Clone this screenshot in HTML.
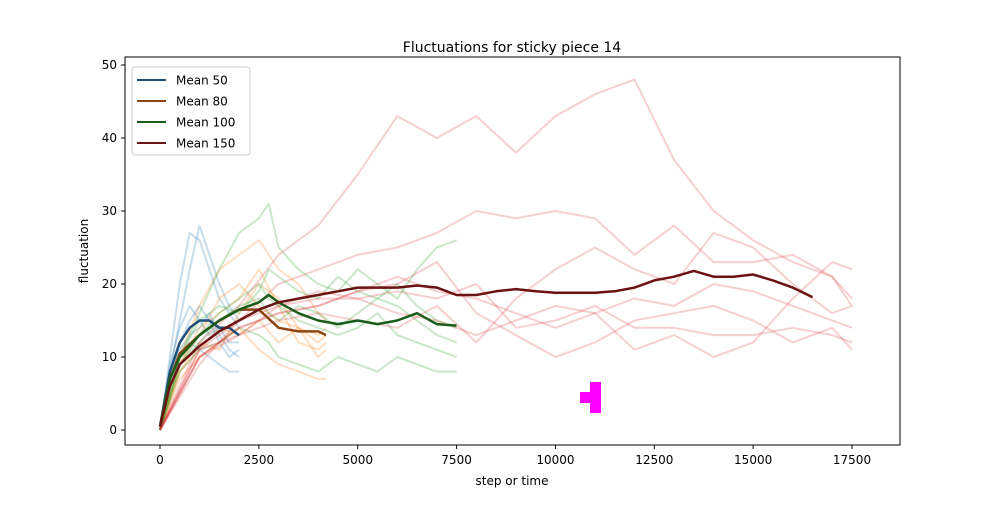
<!DOCTYPE html>
<html><head><meta charset="utf-8"><style>
body{margin:0;background:#fff;font-family:"Liberation Sans","DejaVu Sans",sans-serif;}
svg text{font-family:"DejaVu Sans","Liberation Sans",sans-serif;}
</style></head><body>
<svg id="c" width="1000" height="500" xmlns="http://www.w3.org/2000/svg">
<rect width="1000" height="500" fill="#fff"/>
<g id="lines"></g>
<g fill="#ff00ff">
<rect x="590" y="382" width="11" height="31"/><rect x="580" y="392" width="11" height="11"/>
</g>
<rect x="125" y="57" width="775" height="388" fill="none" stroke="#000" stroke-width="1"/>
<g id="axes"></g>
<text x="512" y="52" text-anchor="middle" font-size="14">Fluctuations for sticky piece 14</text>
<text x="512" y="485" text-anchor="middle" font-size="12">step or time</text>
<text x="88" y="251" text-anchor="middle" font-size="12" transform="rotate(-90 88 251)">fluctuation</text>
<g>
<rect x="132" y="67" width="118" height="88" rx="3" fill="#fff" fill-opacity="0.8" stroke="#ccc"/>
<g id="leg"></g>
</g>
</svg>
<script>
const xTicks=[0,2500,5000,7500,10000,12500,15000,17500];
const yTicks=[0,10,20,30,40,50];
const meanNames=["Mean 50","Mean 80","Mean 100","Mean 150"];
const meanColors=["#1f4e79","#8b4513","#1a5c1a","#6b1212"];
const mean50X=[0,250,500,750,1000,1250,1500,1750,2000];
const mean50Y=[0.5,8,12,14,15,15,14,14,13];
const mean80X=[0,250,500,1000,1500,2000,2500,3000,3500,4000,4200];
const mean80Y=[0.5,7,10.5,13,15,16.5,16.5,14,13.5,13.5,13];
const mean100X=[0,250,500,1000,1500,2000,2500,2750,3000,3500,4000,4500,5000,5500,6000,6500,7000,7500];
const mean100Y=[0.5,7,10,13,15,16.5,17.5,18.5,17.5,16,15,14.5,15,14.5,15,16,14.5,14.3];
const mean150X=[0,250,500,1000,1500,2000,2500,3000,3500,4000,4500,5000,5500,6000,6500,7000,7500,8000,8500,9000,9500,10000,10500,11000,11500,12000,12500,13000,13500,14000,14500,15000,15500,16000,16500];
const mean150Y=[0.5,6,9,11.5,13.5,15,16.5,17.5,18,18.5,19,19.5,19.5,19.5,19.8,19.5,18.5,18.5,19,19.3,19,18.8,18.8,18.8,19,19.5,20.5,21,21.8,21,21,21.3,20.5,19.5,18.2];
const blueX=[0,250,500,750,1000,1250,1500,1750,2000];
const blue1=[0,10,20,27,26,22,18,16,14];
const blue2=[0,8,15,22,28,24,20,17,15];
const blue3=[0,6,10,12,11,10,9,8,8];
const blue4=[0,7,12,15,17,15,12,10,11];
const blue5=[0,9,14,17,15,13,14,12,12];
const blue6=[0,8,11,13,14,16,13,11,10];
const orangeX=[0,500,1000,1500,2000,2500,3000,3500,4000,4200];
const orange1=[0,10,17,22,24,26,22,20,16,15];
const orange2=[0,7,10,12,14,11,9,8,7,7];
const orange3=[0,9,13,18,20,17,15,14,12,13];
const orange4=[0,8,12,11,16,20,18,14,10,11];
const orange5=[0,9,14,16,18,22,17,12,11,12];
const orange6=[0,8,11,14,13,15,12,14,13,14];
const greenX=[0,500,1000,1500,2000,2500,2750,3000,3500,4000,4500,5000,5500,6000,6500,7000,7500];
const green1=[0,10,16,22,27,29,31,25,22,20,19,22,20,18,22,25,26];
const green2=[0,8,11,12,14,13,12,10,9,8,10,9,8,10,9,8,8];
const green3=[0,9,13,16,18,20,18,17,15,14,13,14,16,13,12,11,10];
const green4=[0,10,15,17,16,19,22,21,19,18,21,19,18,17,15,13,12];
const green5=[0,9,12,15,17,18,16,15,17,16,14,16,18,20,17,15,14];
const redX=[0,1000,2000,3000,4000,5000,6000,7000,8000,9000,10000,11000,12000,13000,14000,15000,16000,17000,17500];
const red1=[0,12,17,24,28,35,43,40,43,38,43,46,48,37,30,26,23,21,17];
const red2=[0,11,15,20,22,24,25,27,30,29,30,29,24,28,23,23,24,21,18];
const red3=[0,10,14,16,17,19,20,23,16,13,10,12,15,16,17,15,12,14,11];
const red4=[0,11,13,15,16,15,14,17,12,18,22,25,22,20,27,25,20,16,17];
const red5=[0,9,15,17,18,18,19,18,20,14,15,17,14,14,13,13,14,13,12];
const red6=[0,10,14,16,17,19,21,19,18,16,14,16,11,13,10,12,18,23,22];
const red7=[0,10,13,17,19,18,16,15,13,15,17,16,18,17,20,19,17,15,14];
const faint=[
 ["rgba(31,119,180,0.25)",blueX,[blue1,blue2,blue3,blue4,blue5,blue6]],
 ["rgba(255,127,14,0.25)",orangeX,[orange1,orange2,orange3,orange4,orange5,orange6]],
 ["rgba(44,160,44,0.25)",greenX,[green1,green2,green3,green4,green5]],
 ["rgba(214,39,40,0.22)",redX,[red1,red2,red3,red4,red5,red6,red7]]
];
const means=[[mean50X,mean50Y],[mean80X,mean80Y],[mean100X,mean100Y],[mean150X,mean150Y]];
const NS="http://www.w3.org/2000/svg";
const sx=v=>160+v*(852-160)/17500;
const sy=v=>430-v*7.3;
const lines=document.getElementById('lines');
function path(xs,ys,col,w,name){
 const p=document.createElementNS(NS,'path');
 p.setAttribute('d',xs.map((x,i)=>(i?'L':'M')+sx(x).toFixed(1)+','+sy(ys[i]).toFixed(1)).join(''));
 p.setAttribute('fill','none');p.setAttribute('stroke',col);p.setAttribute('stroke-width',w);
 p.setAttribute('stroke-linejoin','round');
 
 
 lines.appendChild(p);
}
faint.forEach(([c,xs,arr],k)=>arr.forEach((ys,j)=>path(xs,ys,c,2,'run-line')));
means.forEach(([xs,ys],i)=>path(xs,ys,meanColors[i],2.5,'mean-line'));
const axes=document.getElementById('axes');
xTicks.forEach(t=>{
 const x=sx(t);
 const l=document.createElementNS(NS,'line');
 l.setAttribute('x1',x);l.setAttribute('x2',x);l.setAttribute('y1',445);l.setAttribute('y2',449);l.setAttribute('stroke','#000');
 
 
 axes.appendChild(l);
 const tx=document.createElementNS(NS,'text');
 tx.setAttribute('x',x);tx.setAttribute('y',464);tx.setAttribute('text-anchor','middle');tx.setAttribute('font-size','12');
 tx.textContent=t;
 
 
 axes.appendChild(tx);
});
yTicks.forEach(t=>{
 const y=sy(t);
 const l=document.createElementNS(NS,'line');
 l.setAttribute('x1',121);l.setAttribute('x2',125);l.setAttribute('y1',y);l.setAttribute('y2',y);l.setAttribute('stroke','#000');
 
 
 axes.appendChild(l);
 const tx=document.createElementNS(NS,'text');
 tx.setAttribute('x',117);tx.setAttribute('y',y+4);tx.setAttribute('text-anchor','end');tx.setAttribute('font-size','12');
 tx.textContent=t;
 
 
 axes.appendChild(tx);
});
const leg=document.getElementById('leg');
meanNames.forEach((n,i)=>{
 const y=80+i*21;
 const l=document.createElementNS(NS,'line');
 l.setAttribute('x1',137);l.setAttribute('x2',166);l.setAttribute('y1',y);l.setAttribute('y2',y);
 l.setAttribute('stroke',meanColors[i]);l.setAttribute('stroke-width',2);
 
 
 leg.appendChild(l);
 const t=document.createElementNS(NS,'text');
 t.setAttribute('x',176);t.setAttribute('y',y+4.5);t.setAttribute('font-size','12');
 t.textContent=n;
 
 
 leg.appendChild(t);
});
</script>
</body></html>
